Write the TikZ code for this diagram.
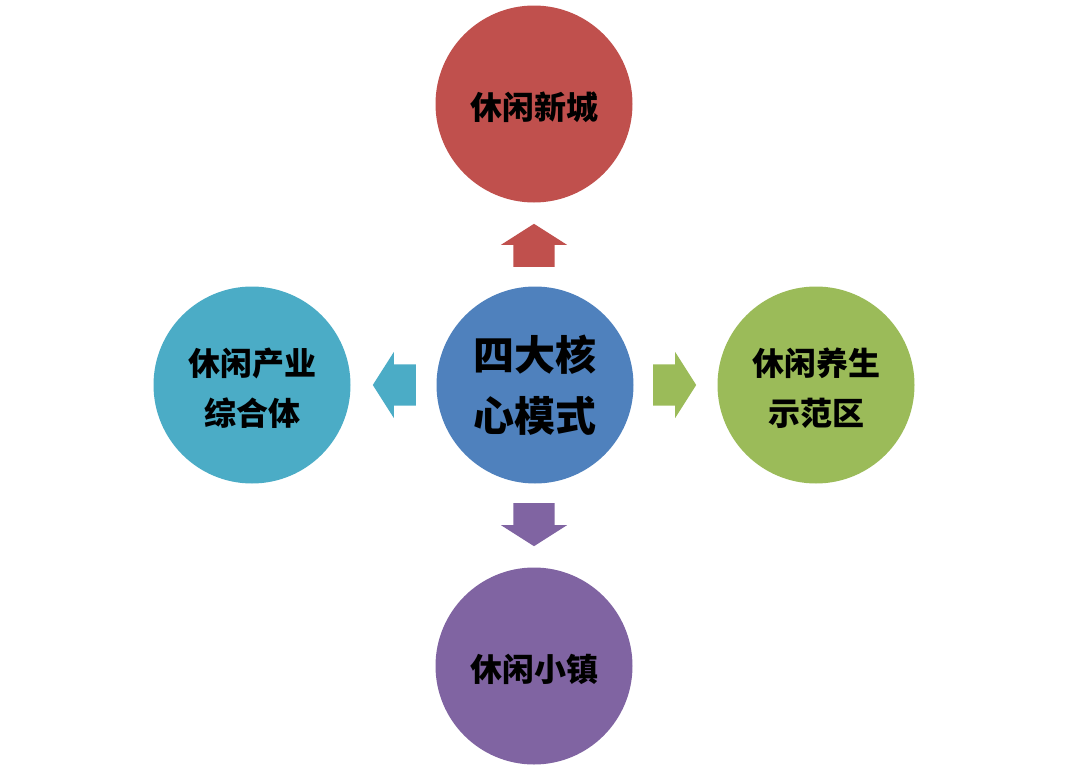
\documentclass[tikz,border=0pt]{standalone}
\usepackage{fontspec}
\newfontfamily\cjk{Noto Sans CJK SC}
\usetikzlibrary{shapes.arrows}

\definecolor{modered}{RGB}{192,80,77}
\definecolor{modeblue}{RGB}{79,129,189}
\definecolor{modegreen}{RGB}{155,187,89}
\definecolor{modepurple}{RGB}{128,100,162}
\definecolor{modeaqua}{RGB}{75,172,198}

% text of an outer circle, set a little low
\newcommand{\modetext}[1]{\raisebox{-5pt}[\height][\depth]{\begin{tabular}{@{}c@{}}#1\end{tabular}}}

\begin{document}
\begin{tikzpicture}[x=1pt,y=-1pt]
		\tikzstyle{mode}=[circle,minimum size=197pt,inner sep=0pt,align=center,
			font=\cjk\bfseries\fontsize{32}{50}\selectfont]
		\tikzstyle{core}=[mode,font=\cjk\bfseries\fontsize{41}{61}\selectfont]
		\tikzstyle{blockarrow}=[single arrow,inner sep=0pt,
			minimum height=43pt,single arrow head extend=12.5pt,
			single arrow tip angle=115]
		\tikzstyle{harrow}=[blockarrow,inner ysep=20.5pt]
		\tikzstyle{varrow}=[blockarrow,inner xsep=20.5pt]

		\useasboundingbox (0,0) rectangle (1069,771);

		\node[core,fill=modeblue] (c) at (535,385) {四大核\\心模式};
		\node[mode,fill=modered] (t) at (534,104) {\modetext{休闲新城}};
		\node[mode,fill=modepurple] (b) at (534,666) {\modetext{休闲小镇}};
		\node[mode,fill=modeaqua] (l) at (252,385) {\modetext{休闲产业\\综合体}};
		\node[mode,fill=modegreen] (r) at (816,385) {\modetext{休闲养生\\示范区}};

		\node[varrow,fill=modered,shape border rotate=90,anchor=tail] (ct) at (534,267) {};
		\node[varrow,fill=modepurple,shape border rotate=270,anchor=tail] (cb) at (534,503) {};
		\node[harrow,fill=modeaqua,shape border rotate=180,anchor=tail] (cl) at (416,385) {};
		\node[harrow,fill=modegreen,shape border rotate=0,anchor=tail] (cr) at (653,385) {};
	\end{tikzpicture}
\end{document}
